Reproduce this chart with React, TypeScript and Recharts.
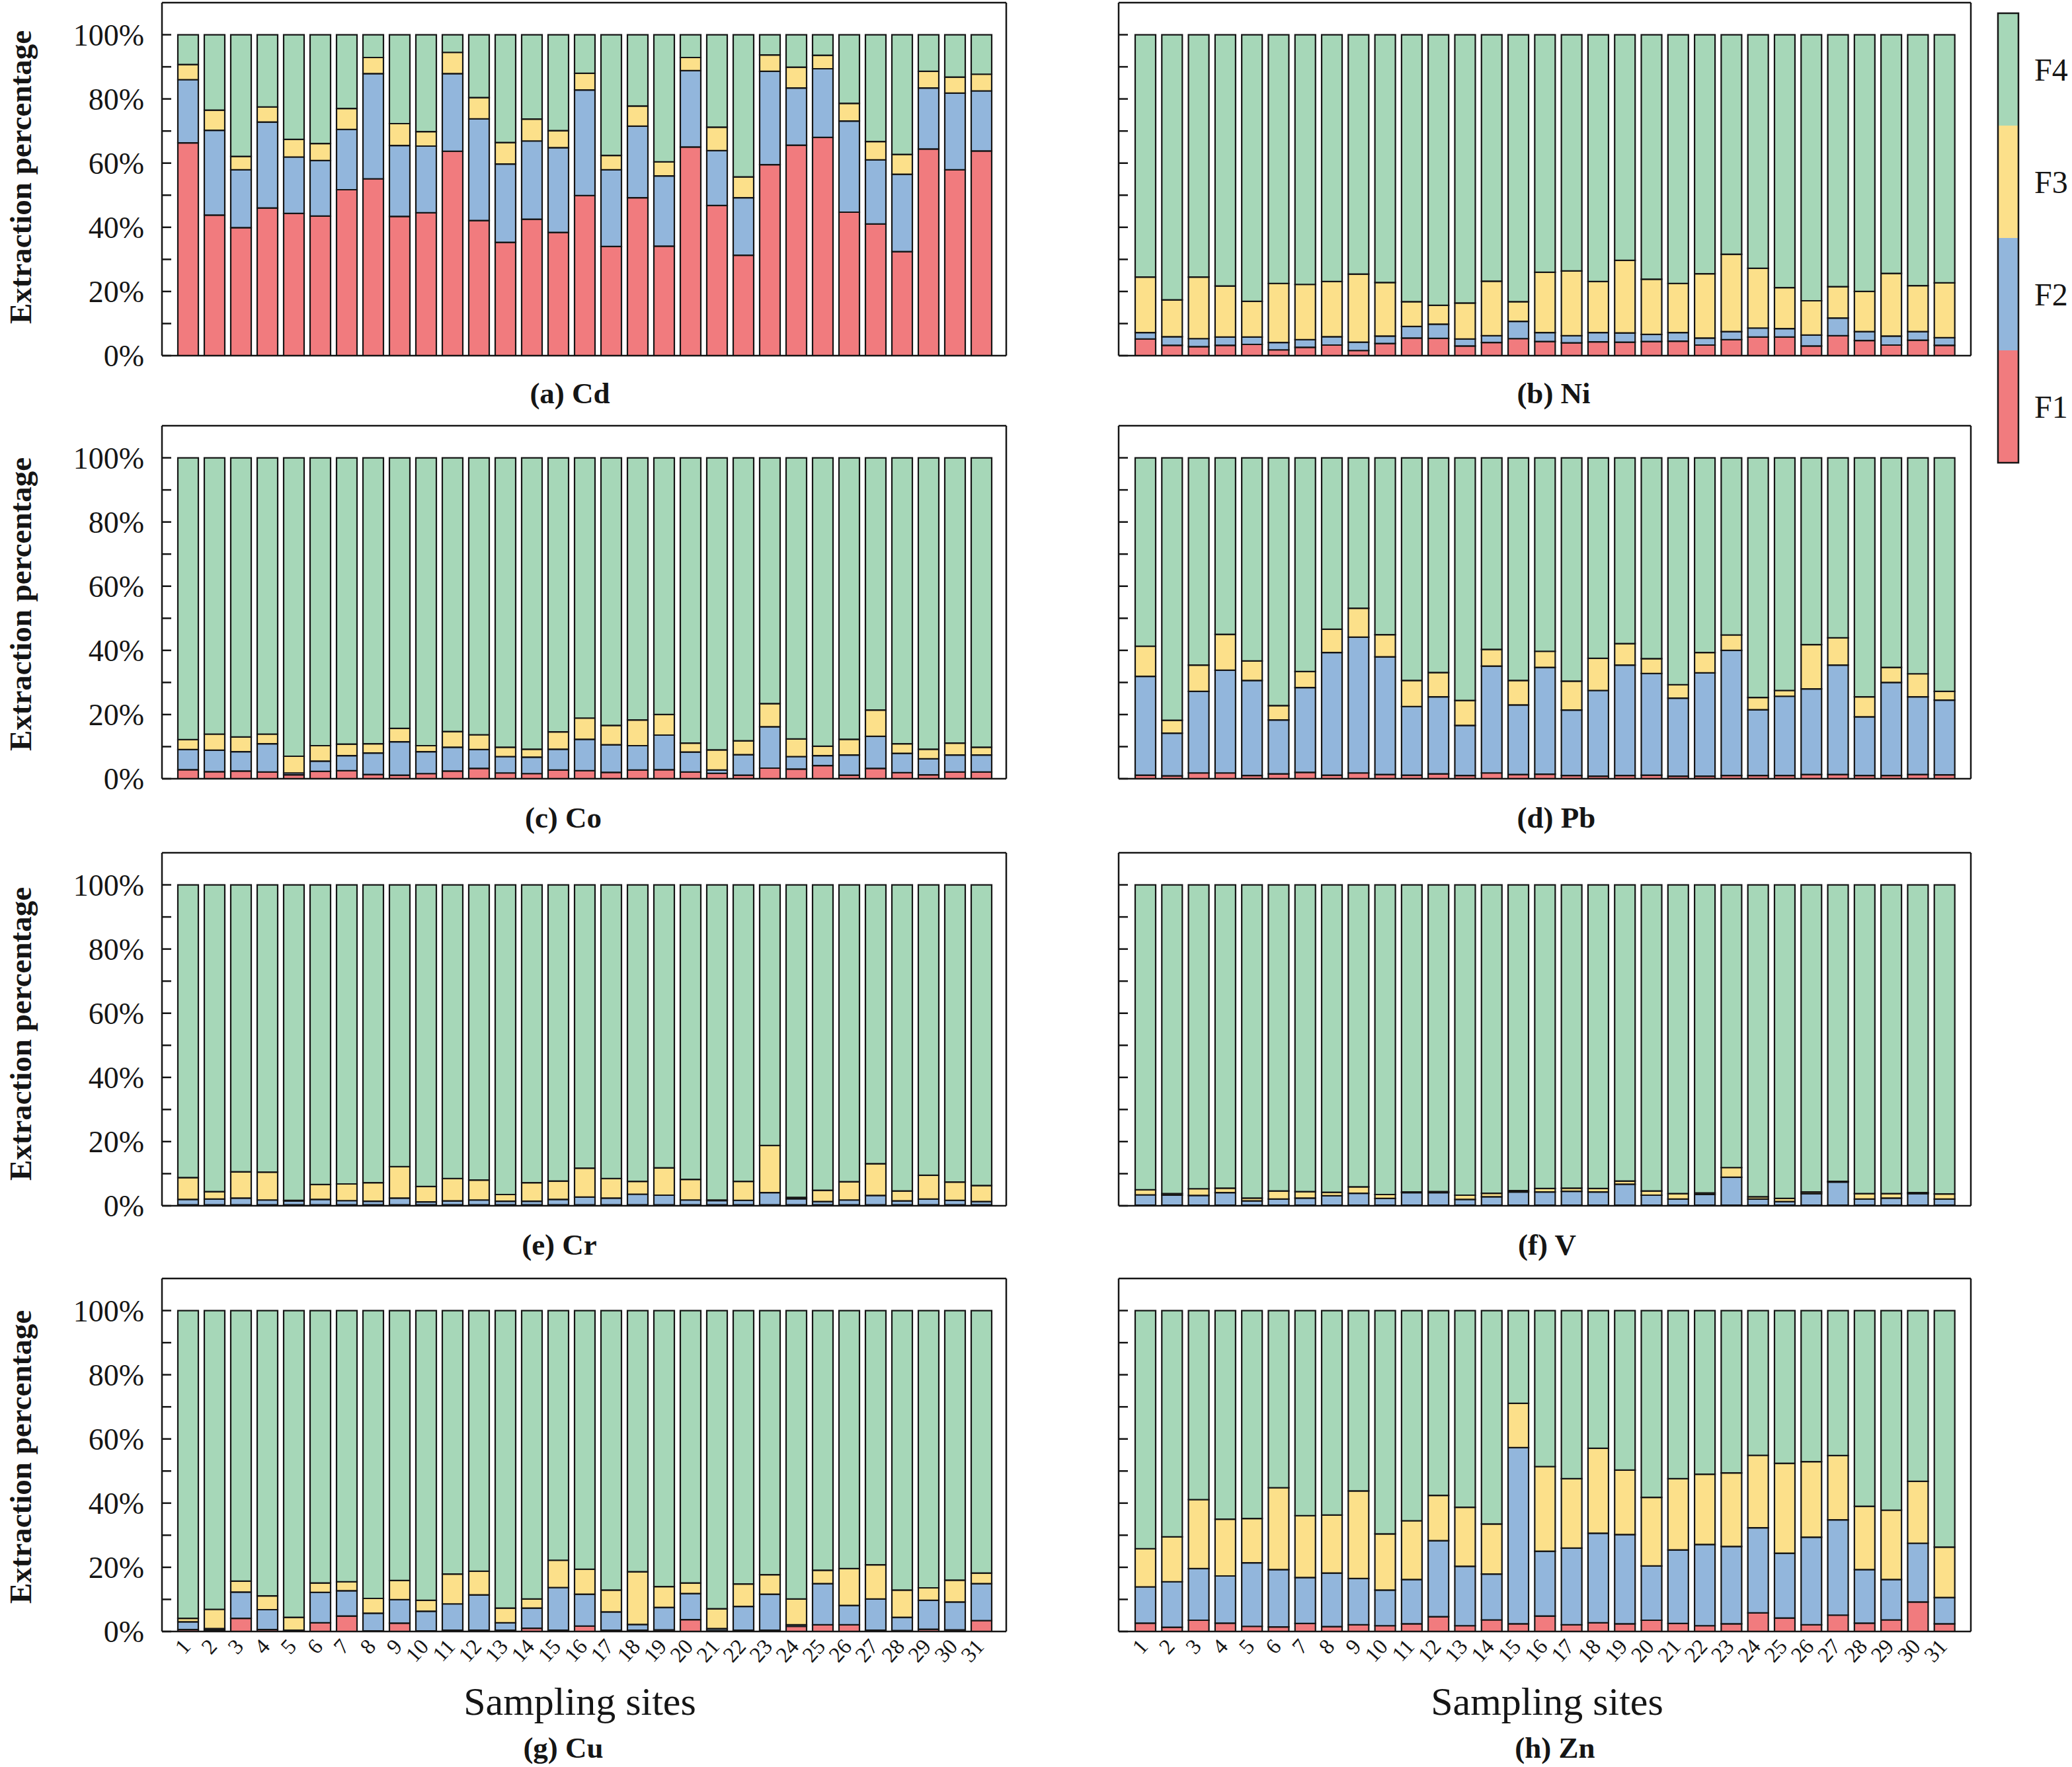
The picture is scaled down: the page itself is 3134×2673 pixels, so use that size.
import { Bar, BarChart, ReferenceLine, XAxis, YAxis } from 'recharts';

const SERIF = '"Liberation Serif", "Times New Roman", serif';
const INK = '#151515';

const SITES = [
  '1', '2', '3', '4', '5', '6', '7', '8', '9', '10', '11', '12', '13', '14', '15', '16',
  '17', '18', '19', '20', '21', '22', '23', '24', '25', '26', '27', '28', '29', '30', '31',
];
const Y_TICKS = [0, 10, 20, 30, 40, 50, 60, 70, 80, 90, 100];

const COLORS = { f1: '#F17B7E', f2: '#92B6DC', f3: '#FCE08A', f4: '#A6D7B8' };
const FRACTIONS = ['F4', 'F3', 'F2', 'F1'];

// F1, F2, F3 shares (%) per site; F4 is the rest up to 100%.
const CD_F1 = [66.3, 43.8, 39.9, 46.0, 44.3, 43.5, 51.7, 55.1, 43.4, 44.5, 63.7, 42.1, 35.3, 42.5, 38.4, 49.9, 34.0, 49.2, 34.1, 65.0, 46.8, 31.3, 59.5, 65.6, 68.0, 44.7, 41.0, 32.4, 64.4, 57.9, 63.8];
const CD_F2 = [19.7, 26.4, 18.0, 26.8, 17.6, 17.3, 18.8, 32.8, 22.1, 20.8, 24.2, 31.7, 24.4, 24.4, 26.4, 32.9, 23.9, 22.3, 21.9, 23.8, 17.1, 17.9, 29.1, 17.8, 21.4, 28.4, 20.0, 24.1, 19.0, 23.9, 18.7];
const CD_F3 = [4.7, 6.3, 4.2, 4.7, 5.5, 5.3, 6.5, 5.0, 6.8, 4.5, 6.6, 6.6, 6.7, 6.8, 5.3, 5.2, 4.5, 6.3, 4.4, 4.1, 7.3, 6.5, 5.1, 6.5, 4.2, 5.5, 5.7, 6.2, 5.2, 5.0, 5.2];

const NI_F1 = [5.2, 3.2, 2.8, 3.2, 3.5, 1.8, 2.6, 3.3, 1.6, 3.8, 5.5, 5.4, 3.0, 4.1, 5.3, 4.4, 4.0, 4.3, 4.2, 4.4, 4.5, 3.3, 5.0, 5.8, 5.8, 3.0, 6.2, 4.7, 3.3, 4.8, 3.2];
const NI_F2 = [2.0, 2.7, 2.5, 2.6, 2.3, 2.3, 2.4, 2.6, 2.6, 2.3, 3.6, 4.4, 2.2, 2.1, 5.4, 2.8, 2.2, 2.9, 2.9, 2.2, 2.7, 2.2, 2.5, 2.8, 2.6, 3.4, 5.5, 2.8, 2.8, 2.7, 2.4];
const NI_F3 = [17.3, 11.5, 19.2, 15.9, 11.1, 18.4, 17.2, 17.2, 21.2, 16.7, 7.7, 5.9, 11.2, 17.0, 6.1, 18.8, 20.2, 15.9, 22.6, 17.2, 15.3, 20.0, 24.1, 18.6, 12.8, 10.7, 9.8, 12.5, 19.5, 14.3, 17.1];

const CO_F1 = [2.8, 2.2, 2.4, 2.1, 1.2, 2.3, 2.5, 1.3, 1.1, 1.6, 2.4, 3.2, 1.8, 1.6, 2.7, 2.5, 2.0, 2.7, 2.8, 2.1, 1.7, 1.1, 3.3, 3.0, 4.1, 1.1, 3.2, 1.9, 1.2, 2.1, 2.1];
const CO_F2 = [6.3, 6.7, 6.0, 8.8, 0.6, 3.2, 4.7, 6.7, 10.4, 6.8, 7.4, 5.9, 5.1, 5.1, 6.5, 9.8, 8.6, 7.6, 10.8, 6.2, 1.0, 6.4, 12.9, 3.9, 3.1, 6.3, 10.0, 6.0, 5.0, 5.3, 5.3];
const CO_F3 = [3.1, 5.0, 4.6, 3.0, 5.2, 4.8, 3.6, 2.9, 4.2, 1.9, 4.9, 4.6, 2.9, 2.5, 5.4, 6.6, 6.0, 8.0, 6.4, 2.8, 6.3, 4.3, 7.2, 5.5, 2.9, 4.9, 8.2, 3.0, 3.0, 3.7, 2.4];

const PB_F1 = [1.1, 0.9, 1.8, 1.8, 1.0, 1.5, 2.0, 1.1, 1.8, 1.3, 1.1, 1.5, 1.0, 1.8, 1.3, 1.4, 1.0, 0.8, 1.0, 1.1, 0.8, 0.8, 1.0, 1.0, 1.0, 1.3, 1.3, 1.0, 1.0, 1.3, 1.2];
const PB_F2 = [30.8, 13.3, 25.4, 32.0, 29.6, 16.8, 26.4, 38.2, 42.3, 36.7, 21.4, 24.0, 15.6, 33.3, 21.7, 33.3, 20.4, 26.7, 34.4, 31.7, 24.3, 32.2, 39.0, 20.5, 24.7, 26.7, 34.1, 18.3, 29.0, 24.2, 23.3];
const PB_F3 = [9.4, 4.0, 8.2, 11.2, 6.1, 4.5, 5.0, 7.3, 9.0, 6.9, 8.1, 7.6, 7.8, 5.2, 7.6, 5.0, 9.0, 10.0, 6.7, 4.6, 4.2, 6.3, 4.8, 3.8, 1.8, 13.8, 8.5, 6.2, 4.7, 7.2, 2.7];

const CR_F1 = [0.3, 0.3, 0.3, 0.3, 0.3, 0.3, 0.3, 0.3, 0.3, 0.3, 0.3, 0.3, 0.3, 0.3, 0.3, 0.3, 0.3, 0.3, 0.3, 0.3, 0.3, 0.3, 0.3, 0.3, 0.3, 0.3, 0.3, 0.3, 0.3, 0.3, 0.3];
const CR_F2 = [1.7, 1.8, 2.1, 1.5, 1.2, 1.7, 1.3, 1.1, 2.1, 0.9, 1.2, 1.5, 1.1, 1.1, 1.7, 2.4, 2.1, 3.3, 3.0, 1.5, 1.3, 1.4, 3.8, 1.9, 1.0, 1.5, 2.9, 1.2, 1.8, 1.4, 1.0];
const CR_F3 = [6.8, 2.3, 8.2, 8.7, 0.2, 4.6, 5.2, 5.8, 9.8, 4.8, 7.0, 6.2, 2.1, 5.8, 5.7, 9.0, 6.1, 4.0, 8.5, 6.4, 0.2, 5.9, 14.7, 0.4, 3.5, 5.7, 9.9, 3.1, 7.4, 5.7, 5.0];

const V_F1 = [0.2, 0.2, 0.2, 0.2, 0.2, 0.2, 0.2, 0.2, 0.2, 0.2, 0.2, 0.2, 0.2, 0.2, 0.2, 0.2, 0.2, 0.2, 0.2, 0.2, 0.2, 0.2, 0.2, 0.2, 0.2, 0.2, 0.2, 0.2, 0.2, 0.2, 0.2];
const V_F2 = [3.2, 3.1, 3.0, 3.9, 1.3, 1.9, 2.2, 2.9, 3.7, 2.1, 3.9, 3.9, 1.8, 2.6, 4.1, 4.1, 4.3, 4.1, 6.5, 3.1, 1.9, 3.3, 8.7, 1.9, 1.1, 3.6, 7.2, 1.9, 2.2, 3.6, 1.9];
const V_F3 = [1.6, 0.5, 2.1, 1.4, 0.9, 2.5, 2.0, 1.1, 2.0, 1.2, 0.2, 0.3, 1.3, 1.1, 0.4, 1.1, 1.0, 1.1, 1.0, 1.3, 1.7, 0.5, 3.0, 0.7, 1.0, 0.5, 0.2, 1.7, 1.4, 0.3, 1.6];

const CU_F1 = [0.6, 0.4, 4.1, 0.6, 0.3, 2.7, 4.8, 0.2, 2.6, 0.2, 0.4, 0.4, 0.4, 1.0, 0.4, 1.7, 0.4, 0.4, 0.5, 3.7, 0.3, 0.4, 0.4, 1.6, 2.1, 2.1, 0.4, 0.3, 0.7, 0.5, 3.4];
const CU_F2 = [2.4, 0.5, 8.2, 6.2, 0.1, 9.5, 7.9, 5.5, 7.3, 6.1, 8.2, 11.0, 2.3, 6.3, 13.3, 9.9, 5.7, 1.8, 7.0, 8.1, 0.6, 7.4, 11.2, 0.5, 12.8, 6.0, 9.7, 4.1, 9.0, 8.7, 11.5];
const CU_F3 = [1.1, 6.0, 3.4, 4.3, 4.0, 2.9, 2.8, 4.6, 6.0, 3.4, 9.3, 7.4, 4.6, 2.8, 8.5, 7.8, 6.8, 16.4, 6.5, 3.3, 6.2, 7.0, 6.1, 8.0, 4.2, 11.5, 10.7, 8.5, 3.9, 6.8, 3.3];

const ZN_F1 = [2.6, 1.3, 3.5, 2.6, 1.6, 1.4, 2.5, 1.5, 2.1, 1.8, 2.4, 4.6, 1.8, 3.6, 2.4, 4.8, 2.1, 2.7, 2.4, 3.5, 2.5, 1.8, 2.4, 5.8, 4.2, 2.1, 5.1, 2.6, 3.6, 9.2, 2.4];
const ZN_F2 = [11.3, 14.2, 16.1, 14.7, 19.8, 17.9, 14.3, 16.7, 14.4, 11.1, 13.8, 23.7, 18.5, 14.3, 54.9, 20.2, 23.9, 27.9, 27.8, 16.9, 22.9, 25.3, 24.1, 26.5, 20.2, 27.3, 29.7, 16.7, 12.6, 18.3, 8.2];
const ZN_F3 = [11.9, 14.0, 21.5, 17.7, 13.8, 25.5, 19.3, 18.1, 27.3, 17.5, 18.3, 14.1, 18.4, 15.6, 13.8, 26.4, 21.6, 26.5, 20.1, 21.4, 22.2, 21.9, 22.9, 22.6, 28.0, 23.5, 20.0, 19.7, 21.6, 19.3, 15.7];

const PANELS = [
  { title: '(a) Cd', f1: CD_F1, f2: CD_F2, f3: CD_F3, row: 0, col: 0 },
  { title: '(b) Ni', f1: NI_F1, f2: NI_F2, f3: NI_F3, row: 0, col: 1 },
  { title: '(c) Co', f1: CO_F1, f2: CO_F2, f3: CO_F3, row: 1, col: 0 },
  { title: '(d) Pb', f1: PB_F1, f2: PB_F2, f3: PB_F3, row: 1, col: 1 },
  { title: '(e) Cr', f1: CR_F1, f2: CR_F2, f3: CR_F3, row: 2, col: 0 },
  { title: '(f) V', f1: V_F1, f2: V_F2, f3: V_F3, row: 2, col: 1 },
  { title: '(g) Cu', f1: CU_F1, f2: CU_F2, f3: CU_F3, row: 3, col: 0 },
  { title: '(h) Zn', f1: ZN_F1, f2: ZN_F2, f3: ZN_F3, row: 3, col: 1 },
];

// page layout (px)
const ROW_TOPS = [4, 644, 1290, 1934];
const PLOT_H = 534;
const TITLE_BASE = [610, 1252, 1898, 2659];
const TITLE_X = [[862, 2350], [852, 2354], [846, 2340], [852, 2352]];
const YTITLE_Y = [268, 914, 1564, 2204];

function buildRows(f1: number[], f2: number[], f3: number[]) {
  return SITES.map((site, i) => ({
    site,
    f1: f1[i],
    f2: f2[i],
    f3: f3[i],
    f4: Math.round((100 - f1[i] - f2[i] - f3[i]) * 10) / 10,
  }));
}

function SiteTick(props: any) {
  const { x, y, payload } = props;
  return (
    <text
      x={x + 6}
      y={y}
      transform={`rotate(-48 ${x + 6} ${y})`}
      textAnchor="end"
      fontSize={33}
      fontFamily={SERIF}
      fill={INK}
    >
      {payload.value}
    </text>
  );
}

function Panel({ panel }: { panel: (typeof PANELS)[number] }) {
  const isLeft = panel.col === 0;
  const isBottom = panel.row === 3;
  const rows = buildRows(panel.f1, panel.f2, panel.f3);
  const yAxisWidth = isLeft ? 245 : 132;
  const plotW = isLeft ? 1277 : 1289;
  const width = yAxisWidth + plotW + 1 + 17;
  const xAxisHeight = isBottom ? 90 : 40;
  const height = 10 + PLOT_H + xAxisHeight + 4;
  const pad = isLeft ? { left: 19, right: 18 } : { left: 20, right: 20 };
  const axisLine = { stroke: INK, strokeWidth: 2.5 };

  return (
    <div style={{ position: 'absolute', left: isLeft ? 0 : 1560, top: ROW_TOPS[panel.row] - 10 }}>
      <BarChart
        width={width}
        height={height}
        data={rows}
        barSize={31}
        margin={{ top: 10, right: 17, bottom: 4, left: 0 }}
      >
        <XAxis
          dataKey="site"
          interval={0}
          padding={pad}
          axisLine={axisLine}
          tickLine={false}
          tickMargin={18}
          height={xAxisHeight}
          tick={isBottom ? <SiteTick /> : false}
        />
        <YAxis
          yAxisId="l"
          type="number"
          domain={[0, 110]}
          ticks={Y_TICKS}
          interval={0}
          width={yAxisWidth}
          axisLine={axisLine}
          tickLine={{ stroke: INK, strokeWidth: 2.5 }}
          tickSize={-14}
          tickMargin={41}
          tickFormatter={(v: number) => (isLeft && v % 20 === 0 ? `${v}%` : '')}
          tick={{ fill: INK, fontSize: 46, fontFamily: SERIF }}
        />
        <YAxis
          yAxisId="r"
          orientation="right"
          type="number"
          domain={[0, 110]}
          ticks={Y_TICKS}
          interval={0}
          width={1}
          axisLine={axisLine}
          tickLine={{ stroke: INK, strokeWidth: 2.5 }}
          tickSize={-14}
          tick={false}
        />
        <ReferenceLine yAxisId="l" y={110} stroke={INK} strokeWidth={2.5} />
        <Bar yAxisId="l" dataKey="f1" stackId="s" fill={COLORS.f1} stroke={INK} strokeWidth={2.2} isAnimationActive={false} />
        <Bar yAxisId="l" dataKey="f2" stackId="s" fill={COLORS.f2} stroke={INK} strokeWidth={2.2} isAnimationActive={false} />
        <Bar yAxisId="l" dataKey="f3" stackId="s" fill={COLORS.f3} stroke={INK} strokeWidth={2.2} isAnimationActive={false} />
        <Bar yAxisId="l" dataKey="f4" stackId="s" fill={COLORS.f4} stroke={INK} strokeWidth={2.2} isAnimationActive={false} />
      </BarChart>
    </div>
  );
}

function Overlay() {
  const legendFill = [COLORS.f4, COLORS.f3, COLORS.f2, COLORS.f1];
  return (
    <svg
      width={3134}
      height={2673}
      style={{ position: 'absolute', left: 0, top: 0, pointerEvents: 'none' }}
      fontFamily={SERIF}
    >
      {YTITLE_Y.map((cy) => (
        <text
          key={cy}
          x={47}
          y={cy}
          transform={`rotate(-90 47 ${cy})`}
          textAnchor="middle"
          fontSize={47}
          fontWeight="bold"
          fill={INK}
        >
          Extraction percentage
        </text>
      ))}
      {PANELS.map((p) => (
        <text
          key={p.title}
          x={TITLE_X[p.row][p.col]}
          y={TITLE_BASE[p.row]}
          textAnchor="middle"
          fontSize={45}
          fontWeight="bold"
          fill={INK}
        >
          {p.title}
        </text>
      ))}
      {[877, 2340].map((cx) => (
        <text key={cx} x={cx} y={2594} textAnchor="middle" fontSize={60} fill={INK}>
          Sampling sites
        </text>
      ))}
      {FRACTIONS.map((name, i) => (
        <g key={name}>
          <rect x={3022} y={20 + i * 170} width={31} height={170} fill={legendFill[i]} />
          <text x={3077} y={105 + i * 170} dominantBaseline="central" fontSize={48} fill={INK}>
            {name}
          </text>
        </g>
      ))}
      <rect x={3022} y={20} width={31} height={680} fill="none" stroke={INK} strokeWidth={2.5} />
    </svg>
  );
}

export default function App() {
  return (
    <div style={{ position: 'relative', width: 3134, height: 2673, background: '#fff' }}>
      <style>{'body{margin:0}'}</style>
      {PANELS.map((p) => (
        <Panel key={p.title} panel={p} />
      ))}
      <Overlay />
    </div>
  );
}
